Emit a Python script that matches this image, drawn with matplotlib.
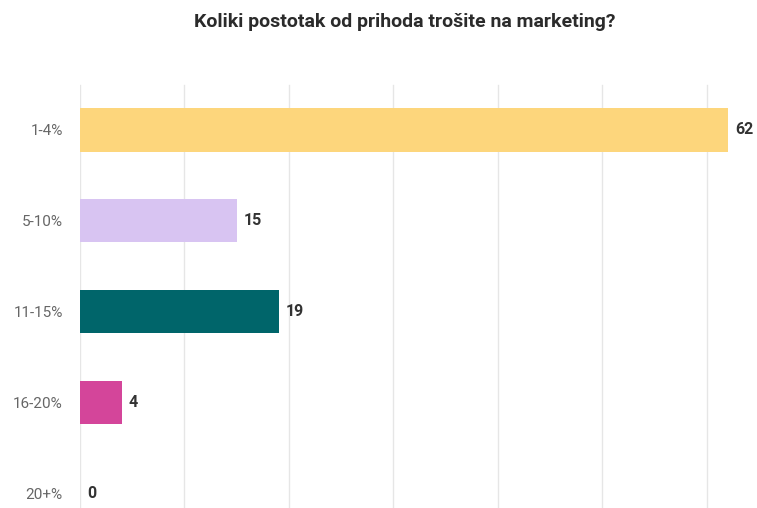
import matplotlib
matplotlib.use("Agg")
import matplotlib.pyplot as plt

categories = ["1-4%", "5-10%", "11-15%", "16-20%", "20+%"]
values = [62, 15, 19, 4, 0]
colors = ["#FDD67C", "#D8C4F2", "#00656A", "#D4459A", "#CCCCCC"]
title = "Koliki postotak od prihoda trošite na marketing?"

plt.rcParams['font.family'] = ['Roboto', 'DejaVu Sans']

fig = plt.figure(figsize=(7.57, 5.08), dpi=100)
W, H = 757, 508
left_px, right_px = 80, 757
top_px, bot_px = 84.5, 538.5
ax = fig.add_axes([left_px / W, 1 - bot_px / H, (right_px - left_px) / W, (bot_px - top_px) / H])

y = list(range(len(categories)))
ax.barh(y, values, height=0.48, color=colors, zorder=3)
ax.set_ylim(len(categories) - 0.5, -0.5)
ax.set_xlim(0, (right_px - left_px) / 10.45)
ax.set_xticks([0, 10, 20, 30, 40, 50, 60])
ax.xaxis.grid(True, color="#E6E6E6", linewidth=1, zorder=0)
ax.tick_params(axis="x", bottom=False, labelbottom=False)
ax.tick_params(axis="y", left=False, labelsize=11, labelcolor="#666666", pad=9)
ax.set_yticks(y)
ax.set_yticklabels(categories)
for s in ax.spines.values():
    s.set_visible(False)

for yi, v in zip(y, values):
    ax.annotate(str(v), (v, yi), xytext=(5, 0), textcoords="offset points",
                va="center", ha="left", fontsize=11.5, fontweight="bold", color="#333333")

fig.text(405 / W, 1 - 22 / H, title, ha="center", va="center",
         fontsize=14, fontweight="bold", color="#2b2b2b")

fig.savefig("out.png", dpi=100)
